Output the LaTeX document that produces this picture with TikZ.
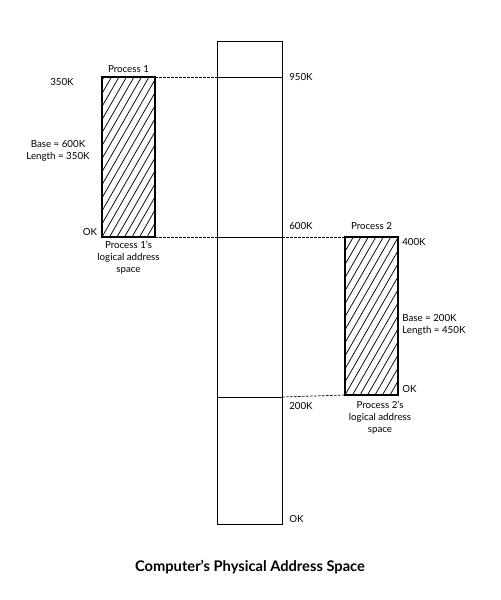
\documentclass[tikz,border=0pt]{standalone}
\usepackage{fontspec}
\setmainfont{Lato}
\begin{document}
\begin{tikzpicture}[x=0.75pt,y=-0.75pt,
  mem/.style={draw=black,line width=0.6pt},
  procbox/.style={draw=black,line width=1.6pt},
  dashlink/.style={draw=black,dashed,dash pattern=on 2pt off 1pt,line width=0.5pt},
  lbl/.style={font=\fontsize{7.3}{8.5}\selectfont,inner sep=0pt},
  captxt/.style={font=\fontsize{7.3}{9}\selectfont,inner sep=0pt,align=center},
  hatch/.style={line width=0.55pt}]
\useasboundingbox (0,0) rectangle (500,600);
% physical memory
\coordinate (mTL) at (217,41);
\coordinate (mBR) at (282,524);
\draw[mem] (mTL) rectangle (mBR);
\coordinate (m950L) at (217,77); \coordinate (m950R) at (282,77);
\coordinate (m600L) at (217,237); \coordinate (m600R) at (282,237);
\coordinate (m200L) at (217,397); \coordinate (m200R) at (282,397);
\draw[mem] (m950L) -- (m950R);
\draw[mem] (m600L) -- (m600R);
\draw[mem] (m200L) -- (m200R);
\node[lbl,anchor=west] (l950) at (289,77) {950K};
\node[lbl,anchor=west] (l600) at (289,226) {600K};
\node[lbl,anchor=west] (l200) at (289,406) {200K};
\node[lbl,anchor=west] (l0) at (289,519) {OK};
% process 1
\coordinate (p1TL) at (102,77);
\coordinate (p1BR) at (155,237);
\coordinate (p1TR) at (155,77);
\coordinate (p1BRc) at (155,237);
\begin{scope}
\clip (p1TL) rectangle (p1BR);
\foreach \i in {-13,...,8} {
  \draw[hatch] (102+\i*7.5,237) -- ++(92,-160);
}
\end{scope}
\draw[procbox] (p1TL) rectangle (p1BR);
\node[lbl] (p1t) at (128.5,69) {Process 1};
\node[lbl] (p1h) at (62,82) {350K};
\node[lbl,align=center] (p1b) at (58,151) {Base = 600K\\[1pt]Length = 350K};
\node[lbl] (p1z) at (90,232) {OK};
\node[captxt] (p1c) at (128.5,258) {Process 1's\\logical address\\space};
\draw[dashlink] (p1TR) -- (m950L);
\draw[dashlink] (p1BRc) -- (m600L);
% process 2
\coordinate (p2TL) at (345,237);
\coordinate (p2BR) at (398,395);
\coordinate (p2BL) at (345,395);
\begin{scope}
\clip (p2TL) rectangle (p2BR);
\foreach \i in {-13,...,8} {
  \draw[hatch] (345+\i*7.5,395) -- ++(92,-160);
}
\end{scope}
\draw[procbox] (p2TL) rectangle (p2BR);
\node[lbl] (p2t) at (371.5,226) {Process 2};
\node[lbl,anchor=west] (p2h) at (402,242) {400K};
\node[lbl,anchor=west,align=left] (p2b) at (402,325) {Base = 200K\\[1pt]Length = 450K};
\node[lbl,anchor=west] (p2z) at (402,389) {OK};
\node[captxt] (p2c) at (380,418) {Process 2's\\logical address\\space};
\draw[dashlink] (m600R) -- (p2TL);
\draw[dashlink] (m200R) -- (p2BL);
% title
\node[font=\bfseries\fontsize{11}{13}\selectfont,inner sep=0pt] (title) at (250,567) {Computer’s Physical Address Space};
\end{tikzpicture}
\end{document}
